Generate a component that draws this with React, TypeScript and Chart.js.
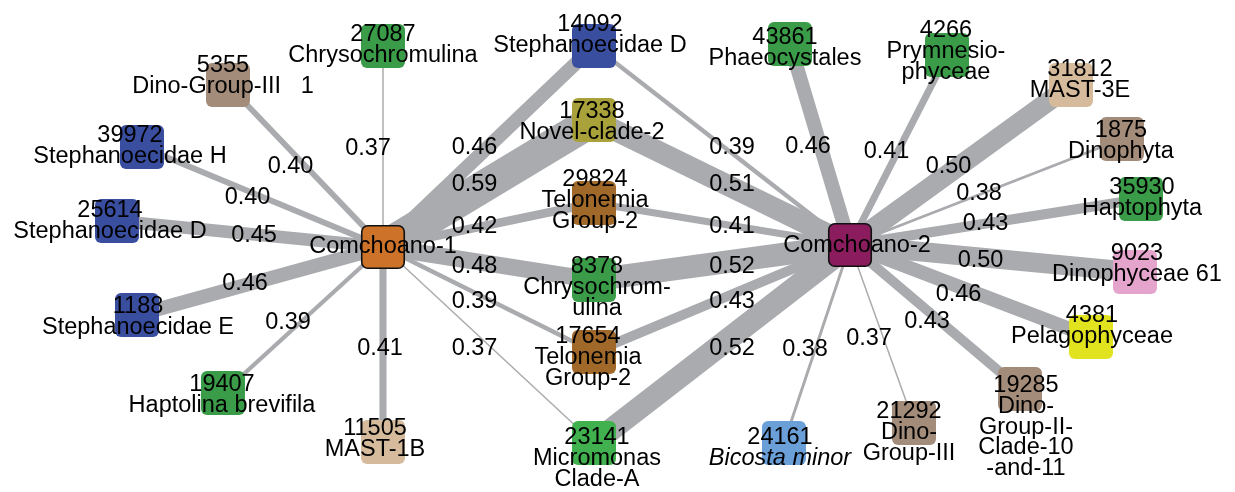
import React, { useEffect, useRef } from "react";
import { Chart, registerables } from "chart.js";

Chart.register(...registerables);

// ---------------- DATA ----------------
const nodeIds: string[] = [
  "Comchoano-1", "Comchoano-2", "27087", "5355", "39972", "25614", "1188", "19407", "11505",
  "14092", "17338", "29824", "8378", "17654", "23141", "24161", "43861", "4266", "31812",
  "1875", "35930", "9023", "4381", "19285", "21292",
];

const nodeLabels: string[][] = [
  ["Comchoano-1"],
  ["Comchoano-2"],
  ["27087", "Chrysochromulina"],
  ["5355", "Dino-Group-III   1"],
  ["39972", "Stephanoecidae H"],
  ["25614", "Stephanoecidae D"],
  ["1188", "Stephanoecidae E"],
  ["19407", "Haptolina brevifila"],
  ["11505", "MAST-1B"],
  ["14092", "Stephanoecidae D"],
  ["17338", "Novel-clade-2"],
  ["29824", "Telonemia", "Group-2"],
  ["8378", "Chrysochrom-", "ulina"],
  ["17654", "Telonemia", "Group-2"],
  ["23141", "Micromonas", "Clade-A"],
  ["24161", "Bicosta minor"],
  ["43861", "Phaeocystales"],
  ["4266", "Prymnesio-", "phyceae"],
  ["31812", "MAST-3E"],
  ["1875", "Dinophyta"],
  ["35930", "Haptophyta"],
  ["9023", "Dinophyceae 61"],
  ["4381", "Pelagophyceae"],
  ["19285", "Dino-", "Group-II-", "Clade-10", "-and-11"],
  ["21292", "Dino-", "Group-III"],
];

const italicLines: string[] = ["Bicosta minor"];

// node positions (graph layout coordinates)
const nodeX: number[] = [383, 850, 383, 228, 142, 117, 137, 223, 383, 594, 594, 594, 594, 594, 594, 784, 790, 947, 1071, 1122, 1141, 1135, 1091, 1020, 914];
const nodeY: number[] = [247, 245, 46, 85, 147, 221, 315, 393, 442, 46, 120, 203, 280, 352, 443, 443, 44, 55, 85, 139, 199, 272, 337, 389, 423];

const edgeSource: string[] = [
  "Comchoano-1", "Comchoano-1", "Comchoano-1", "Comchoano-1", "Comchoano-1", "Comchoano-1", "Comchoano-1",
  "Comchoano-1", "Comchoano-1", "Comchoano-1", "Comchoano-1", "Comchoano-1", "Comchoano-1",
  "Comchoano-2", "Comchoano-2", "Comchoano-2", "Comchoano-2", "Comchoano-2", "Comchoano-2",
  "Comchoano-2", "Comchoano-2", "Comchoano-2", "Comchoano-2", "Comchoano-2", "Comchoano-2",
  "Comchoano-2", "Comchoano-2", "Comchoano-2", "Comchoano-2",
];
const edgeTarget: string[] = [
  "27087", "5355", "39972", "25614", "1188", "19407", "11505",
  "14092", "17338", "29824", "8378", "17654", "23141",
  "14092", "17338", "29824", "8378", "17654", "23141",
  "24161", "43861", "4266", "31812", "1875", "35930",
  "9023", "4381", "19285", "21292",
];
const edgeWeight: number[] = [
  0.37, 0.40, 0.40, 0.45, 0.46, 0.39, 0.41,
  0.46, 0.59, 0.42, 0.48, 0.39, 0.37,
  0.39, 0.51, 0.41, 0.52, 0.43, 0.52,
  0.38, 0.46, 0.41, 0.50, 0.38, 0.43,
  0.50, 0.46, 0.43, 0.37,
];

// ---------------- STYLE / LAYOUT ----------------
const W = 1235;
const H = 492;
const FONT = '"Liberation Sans", Arial, Helvetica, sans-serif';
const FONT_SIZE = 23.5;
const LINE_GAP = 20.8;
const EDGE_COLOR = "#aaabae";

const GREEN = "#3a9b48";
const BLUE = "#3a4ea0";
const DINO = "#a48c7a";
const TAN = "#d5bb9c";
const BROWN = "#a0692a";
const nodeColors: string[] = [
  "#cd7329", "#8b1d5e", GREEN, DINO, BLUE, BLUE, BLUE, GREEN, TAN,
  BLUE, "#a9a23a", BROWN, GREEN, BROWN, "#40b14e", "#6a9fd8", GREEN, GREEN, TAN,
  DINO, GREEN, "#e4a4cc", "#e1e31f", DINO, DINO,
];
const nodeBordered: boolean[] = nodeIds.map((_, i) => i < 2);

// label offsets relative to node centre: x of text centre, y of first baseline
const labelDx: number[] = [0, 7, 0, -5, -12, -7, 1, -1, -8, -4, -2, 1, 3, -6, 3, -4, -5, -1, 9, -1, 1, 2, 1, 6, -5];
const labelDy: number[] = [6, 7, -5, -13, -5, -4, -2, -2, -7, -15, -2, -17, -7, -9, 1, 1, 0, -18, -9, -2, -5, -12, -15, 3, -5];

// edge label nudges relative to edge midpoint
const edgeLabelDx: number[] = [
  -15, -15, -15, 4, -15, -15, -3,
  -14, -14, -14, -14, -14, -14,
  10, 10, 10, 10, 10, 10,
  -12, -12, -12, -12, -7, -10,
  -12, -12, -8, -13,
];
const edgeLabelDy: number[] = [
  0, -1, -1, 0, 1, 1, 2,
  -1, -1, 0, 1, 0, 2,
  0, 0, 1, 2, 1, 3,
  4, 0, 0, 0, 0, 0,
  0, 2, 3, 3,
];

const edgeWidth = (w: number) => 1.5 + (w - 0.37) * 140;
const idx = (id: string) => nodeIds.indexOf(id);

function makeNodeImage(color: string, bordered: boolean): HTMLCanvasElement {
  const c = document.createElement("canvas");
  const s = 46;
  c.width = s;
  c.height = s;
  const ctx = c.getContext("2d")!;
  const size = bordered ? 42.5 : 44;
  const o = (s - size) / 2;
  const r = 6;
  ctx.beginPath();
  ctx.moveTo(o + r, o);
  ctx.lineTo(o + size - r, o);
  ctx.arcTo(o + size, o, o + size, o + r, r);
  ctx.lineTo(o + size, o + size - r);
  ctx.arcTo(o + size, o + size, o + size - r, o + size, r);
  ctx.lineTo(o + r, o + size);
  ctx.arcTo(o, o + size, o, o + size - r, r);
  ctx.lineTo(o, o + r);
  ctx.arcTo(o, o, o + r, o, r);
  ctx.closePath();
  ctx.fillStyle = color;
  ctx.fill();
  if (bordered) {
    ctx.lineWidth = 1.6;
    ctx.strokeStyle = "#111";
    ctx.stroke();
  }
  return c;
}

const labelPlugin = {
  id: "networkLabels",
  afterDatasetsDraw(chart: any) {
    const { ctx } = chart;
    const xs = chart.scales.x;
    const ys = chart.scales.y;
    ctx.save();
    ctx.fillStyle = "#000";
    ctx.textAlign = "center";
    ctx.textBaseline = "alphabetic";
    // edge labels
    ctx.font = `${FONT_SIZE}px ${FONT}`;
    edgeWeight.forEach((w, i) => {
      const a = idx(edgeSource[i]);
      const b = idx(edgeTarget[i]);
      const px = (xs.getPixelForValue(nodeX[a]) + xs.getPixelForValue(nodeX[b])) / 2 + edgeLabelDx[i];
      const py = (ys.getPixelForValue(nodeY[a]) + ys.getPixelForValue(nodeY[b])) / 2 + edgeLabelDy[i] + 8.4;
      ctx.fillText(w.toFixed(2), px, py);
    });
    // node labels
    nodeIds.forEach((_, i) => {
      const px = xs.getPixelForValue(nodeX[i]) + labelDx[i];
      const py0 = ys.getPixelForValue(nodeY[i]) + labelDy[i];
      nodeLabels[i].forEach((line, k) => {
        ctx.font = `${italicLines.includes(line) ? "italic " : ""}${FONT_SIZE}px ${FONT}`;
        ctx.fillText(line, px, py0 + k * LINE_GAP);
      });
    });
    ctx.restore();
  },
};

export default function App() {
  const canvasRef = useRef<HTMLCanvasElement | null>(null);

  useEffect(() => {
    const canvas = canvasRef.current;
    if (!canvas) return;
    const images = nodeIds.map((_, i) => makeNodeImage(nodeColors[i], nodeBordered[i]));

    const edgeDatasets = edgeWeight.map((w, i) => {
      const a = idx(edgeSource[i]);
      const b = idx(edgeTarget[i]);
      return {
        label: `${edgeSource[i]}-${edgeTarget[i]}`,
        data: [
          { x: nodeX[a], y: nodeY[a] },
          { x: nodeX[b], y: nodeY[b] },
        ],
        showLine: true,
        borderColor: EDGE_COLOR,
        backgroundColor: EDGE_COLOR,
        borderWidth: edgeWidth(w),
        borderCapStyle: "butt",
        pointRadius: 0,
        pointHoverRadius: 0,
        order: 1,
        clip: false,
      };
    });

    const nodeDataset = {
      label: "nodes",
      data: nodeIds.map((_, i) => ({ x: nodeX[i], y: nodeY[i] })),
      pointStyle: (c: any) => (c.dataIndex !== undefined ? images[c.dataIndex] : "rect"),
      pointRadius: 22,
      pointHoverRadius: 22,
      showLine: false,
      order: 0,
      clip: false,
    };

    const chart = new Chart(canvas, {
      type: "scatter",
      data: { datasets: [nodeDataset as any, ...(edgeDatasets as any[])] },
      options: {
        animation: false,
        responsive: false,
        devicePixelRatio: 1,
        events: [],
        layout: { padding: 0, autoPadding: false },
        plugins: { legend: { display: false }, tooltip: { enabled: false }, title: { display: false } },
        scales: {
          x: { type: "linear", min: 0, max: W, display: false },
          y: { type: "linear", min: 0, max: H, reverse: true, display: false },
        },
      },
      plugins: [labelPlugin],
    });
    return () => chart.destroy();
  }, []);

  return (
    <div style={{ position: "absolute", left: 0, top: 0, width: W, height: H, background: "#fff" }}>
      <canvas ref={canvasRef} width={W} height={H} style={{ display: "block", width: W, height: H }} />
    </div>
  );
}
